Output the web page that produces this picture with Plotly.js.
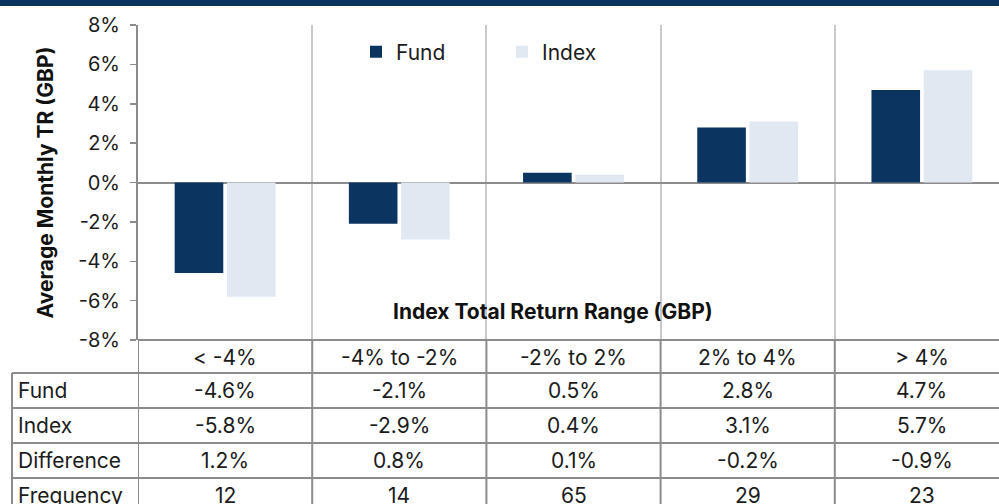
<!DOCTYPE html>
<html><head><meta charset="utf-8">
<script src="https://cdn.plot.ly/plotly-3.0.1.min.js"></script>
<style>
html,body{margin:0;padding:0;overflow:hidden;width:999px;height:504px;background:#fff}
#band{position:absolute;left:0;top:0;width:999px;height:6px;background:#0b3560;z-index:10}
#chart{position:absolute;left:0;top:0;width:1010px;height:504px}
</style></head>
<body><div id="chart"></div><div id="band"></div>
<script>
// ---- data ----
const categories = ['< -4%', '-4% to -2%', '-2% to 2%', '2% to 4%', '> 4%'];
const fund = [-4.6, -2.1, 0.5, 2.8, 4.7];
const indexVals = [-5.8, -2.9, 0.4, 3.1, 5.7];
const difference = [1.2, 0.8, 0.1, -0.2, -0.9];
const frequency = [12, 14, 65, 29, 23];
const rowLabels = ['Fund', 'Index', 'Difference', 'Frequency'];
const seriesNames = ['Fund', 'Index'];
const yTickVals = [-8, -6, -4, -2, 0, 2, 4, 6, 8];
const yTickText = ['-8%', '-6%', '-4%', '-2%', '0%', '2%', '4%', '6%', '8%'];

// ---- geometry helpers (layout only) ----
const W = 1010, Hh = 504;
const M = {l: 138, r: 1, t: 25, b: 164};
const PW = W - M.l - M.r, PH = Hh - M.t - M.b;
const px = v => (v - M.l) / PW;          // page x px -> paper
const py = v => (Hh - M.b - v) / PH;     // page y px -> paper

const FONT = 'Inter, "Open Sans", sans-serif';
const TXT = '#1c1c1c';
const LINE = '#8c8c8c';
const GRID = '#c9c9c9';

const esc = s => s.replace(/</g, '&lt;').replace(/>/g, '&gt;');
const pct = v => v.toFixed(1) + '%';

const traces = [
  {type: 'bar', name: seriesNames[0], x: categories, y: fund,
   marker: {color: '#0b3560', line: {width: 0}}, hoverinfo: 'skip'},
  {type: 'bar', name: seriesNames[1], x: categories, y: indexVals,
   marker: {color: '#e1e8f2', line: {width: 0}}, hoverinfo: 'skip'}
];

const shapes = [];
const annotations = [];

// white boxes behind legend and inner axis title (hide gridlines)
shapes.push({type: 'rect', layer: 'between', xref: 'paper', yref: 'paper',
  x0: px(296), x1: px(805), y0: py(86), y1: py(25), fillcolor: '#ffffff', line: {width: 0}});
shapes.push({type: 'rect', layer: 'between', xref: 'paper', yref: 'paper',
  x0: px(335), x1: px(780), y0: py(337), y1: py(292), fillcolor: '#ffffff', line: {width: 0}});

// table rows
const rowEdges = [340, 373, 408, 443, 478, 513];
rowEdges.forEach((e, i) => {
  shapes.push({type: 'line', xref: 'paper', yref: 'paper',
    x0: i === 0 ? 0 : px(12), x1: 1, y0: py(e), y1: py(e),
    line: {color: LINE, width: 2}});
});
// table column lines at category boundaries
for (let i = 0; i <= categories.length; i++) {
  shapes.push({type: 'line', xref: 'x', yref: 'paper',
    x0: i - 0.5, x1: i - 0.5, y0: py(340), y1: py(513),
    line: {color: LINE, width: 2}});
}
shapes.push({type: 'line', xref: 'paper', yref: 'paper',
  x0: px(12), x1: px(12), y0: py(373), y1: py(513), line: {color: LINE, width: 2}});

// header row (categories)
categories.forEach((c, i) => {
  annotations.push({xref: 'x', yref: 'paper', x: i, y: py(357), text: esc(c),
    showarrow: false, xanchor: 'center', yanchor: 'middle', font: {family: FONT, size: 21, color: TXT}});
});
const rows = [fund.map(pct), indexVals.map(pct), difference.map(pct), frequency.map(String)];
const rowCenters = [390.5, 425.5, 460.5, 495.5];
rows.forEach((r, ri) => {
  annotations.push({xref: 'paper', yref: 'paper', x: px(16), y: py(rowCenters[ri]), text: rowLabels[ri],
    showarrow: false, xanchor: 'left', yanchor: 'middle', font: {family: FONT, size: 21, color: TXT}});
  r.forEach((t, i) => {
    annotations.push({xref: 'x', yref: 'paper', x: i, y: py(rowCenters[ri]), text: t,
      showarrow: false, xanchor: 'center', yanchor: 'middle', font: {family: FONT, size: 21, color: TXT}});
  });
});

// inner x-axis title
annotations.push({xref: 'paper', yref: 'paper', x: px(553), y: py(311),
  text: '<b>Index Total Return Range (GBP)</b>', showarrow: false,
  xanchor: 'center', yanchor: 'middle', font: {family: FONT, size: 21, color: '#111111'}});

const layout = {
  width: W, height: Hh,
  margin: M,
  paper_bgcolor: '#ffffff', plot_bgcolor: '#ffffff',
  barmode: 'group', bargap: 0.4, bargroupgap: 0.07,
  showlegend: true,
  legend: {orientation: 'h', x: px(356), xanchor: 'left', y: py(52), yanchor: 'middle',
    entrywidth: 101, font: {family: FONT, size: 21, color: TXT}, bgcolor: 'rgba(0,0,0,0)',
    traceorder: 'normal'},
  xaxis: {type: 'category', range: [-0.5, categories.length - 0.5], tickson: 'boundaries',
    showgrid: true, gridcolor: GRID, gridwidth: 2, showticklabels: false, ticks: '',
    showline: false, zeroline: false, fixedrange: true},
  yaxis: {range: [-8, 8], tickmode: 'array', tickvals: yTickVals, ticktext: yTickText, showgrid: false,
    zeroline: true, zerolinecolor: LINE, zerolinewidth: 2,
    showline: true, linecolor: LINE, linewidth: 2,
    ticks: 'outside', ticklen: 6, tickwidth: 1.5, tickcolor: LINE, ticklabelstandoff: 6,
    tickfont: {family: FONT, size: 20, color: TXT},
    title: {text: '<b>Average Monthly TR (GBP)</b>', standoff: 19,
      font: {family: FONT, size: 21, color: '#111111'}},
    fixedrange: true},
  shapes: shapes,
  annotations: annotations
};

Plotly.newPlot('chart', traces, layout, {displayModeBar: false, staticPlot: true});
</script>
</body></html>
